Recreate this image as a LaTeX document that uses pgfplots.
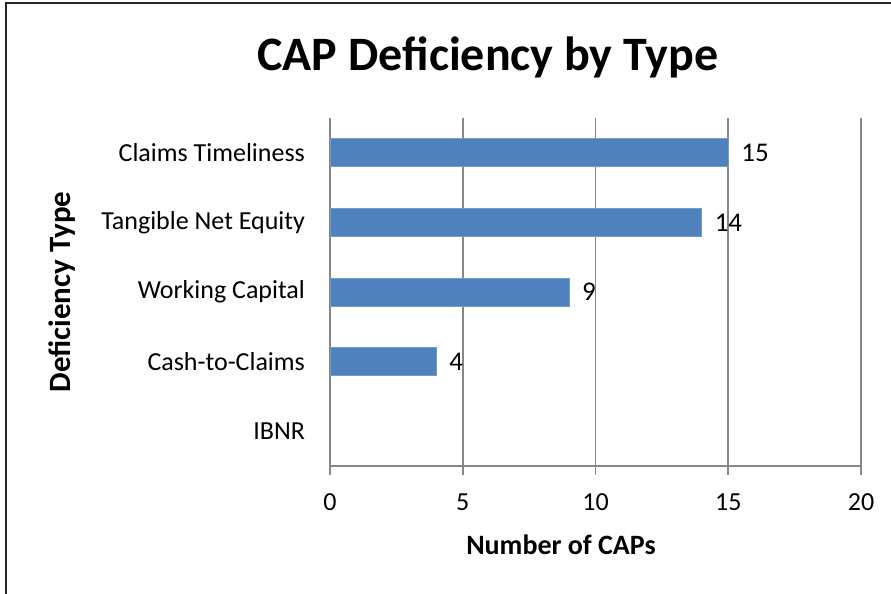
\documentclass[border=0pt]{standalone}
\usepackage{fontspec}
\setmainfont{Carlito}
\usepackage{pgfplots}
\pgfplotsset{compat=1.18}
\definecolor{barblue}{HTML}{4F81BD}
\definecolor{gridgray}{HTML}{868686}

\begin{document}
\begin{tikzpicture}
% page = 891x594 px at 0.5pt per px
\useasboundingbox (0,0) rectangle (445.5pt,297pt);
\draw[line width=1.3pt, black!85] (3pt,0) -- (3pt,295.5pt) -- (445.5pt,295.5pt);
\begin{axis}[
  at={(165pt,64pt)}, anchor=south west,
  scale only axis,
  width=265.5pt, height=174pt,
  xbar, bar width=0.4,
  xmin=0, xmax=20, xtick={0,5,10,15,20},
  ymin=-0.5, ymax=4.5, ytick={0,1,2,3,4},
  yticklabels={IBNR, Cash-to-Claims, Working Capital, Tangible Net Equity\ , Claims Timeliness},
  axis x line*=bottom, axis y line*=left,
  axis line style={draw=gridgray, line width=0.8pt, -},
  xmajorgrids, grid style={draw=gridgray, line width=0.8pt},
  tick align=outside,
  x tick style={draw=gridgray, line width=0.8pt},
  major tick length=4.5pt,
  y tick style={draw=none},
  /pgf/number format/assume math mode=true,
  ticklabel style={font=\fontsize{13}{15}\selectfont},
  xticklabel style={yshift=-6pt},
  yticklabel style={xshift=-4.5pt},
  title={CAP Deficiency by Type},
  title style={font=\fontsize{24}{28}\selectfont\bfseries,
    at={(axis description cs:0.2976,1.103)}, anchor=base},
  xlabel={Number of CAPs},
  xlabel style={font=\fontsize{14}{17}\selectfont\bfseries,
    at={(axis description cs:0.435,-0.2557)}, anchor=base},
  ylabel={Deficiency Type},
  ylabel style={font=\fontsize{15.5}{18}\selectfont\bfseries,
    at={(axis description cs:-0.488,0.5)}, anchor=base},
  nodes near coords,
  nodes near coords style={font=\fontsize{13.5}{16}\selectfont, anchor=west, xshift=3pt},
]
\addplot[fill=barblue, draw=barblue!80!white] coordinates {
  (15,4) (14,3) (9,2) (4,1)};
\end{axis}
\end{tikzpicture}
\end{document}
